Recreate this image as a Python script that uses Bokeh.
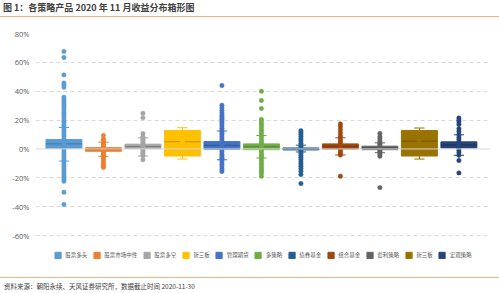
from bokeh.plotting import figure
from bokeh.models import (ColumnDataSource, Range1d, FixedTicker, PrintfTickFormatter,
                          Legend, LegendItem, Span, Div)
from bokeh.layouts import column
from bokeh.embed import file_html
from bokeh.resources import INLINE

categories = ["股票多头", "股票市场中性", "股票多空", "新三板", "管理期货", "多策略",
              "债券基金", "组合基金", "套利策略", "新三板", "宏观策略"]
colors = ["#5B9BD5", "#ED7D31", "#A5A5A5", "#FFC000", "#4472C4", "#70AD47",
          "#255E91", "#9E480E", "#636363", "#997300", "#264478"]

q1 = [0.5, -1.6, 0.2, -4.9, -0.2, -0.5, -0.7, 0.0, -0.5, -4.9, 0.7]
median = [3.5, -0.2, 1.6, 5.0, 2.5, 1.5, 0.0, 1.8, 0.7, 5.4, 2.8]
q3 = [6.5, 0.9, 3.3, 12.8, 5.1, 3.5, 0.7, 3.5, 1.9, 12.8, 4.9]
whisker_lo = [-8.4, -5.1, -4.9, -7.0, -7.5, -6.3, -2.1, -4.2, -2.6, -7.0, -4.4]
whisker_hi = [14.9, 4.7, 7.7, 14.7, 12.4, 9.3, 2.6, 7.7, 4.2, 14.5, 9.8]
mean = [3.9, -0.3, 1.8, 5.2, 2.7, 1.7, 0.1, 2.0, 0.8, 5.4, 3.0]

points = [
    [67.6, 63.4, 51.3, 45.7, 44.4, 42.8, 35.9, 34.4, 33.1, 31.5, 30.2, 28.6, 27.1, 25.4, 24.0,
     22.6, 21.0, 19.4, 18.1, 16.5, 15.2, 13.6, 12.1, 10.4, 9.0, 7.5, 6.1, 4.4, 3.0, 1.6, 0.1,
     -1.4, -3.0, -4.6, -6.0, -7.5, -9.1, -10.6, -12.0, -13.4, -15.0, -16.6, -18.1, -19.5,
     -21.0, -22.4, -30.0, -38.5],
    [9.3, 6.8, 5.6, 4.7, 3.4, 2.5, 1.4, 0.5, -0.6, -1.5, -2.6, -3.5, -4.4, -5.1, -6.2, -7.5,
     -9.0, -10.4, -11.6, -12.8],
    [24.7, 21.7, 10.7, 8.6, 7.7, 6.4, 5.5, 4.4, 3.5, 2.4, 1.6, 0.5, -0.4, -1.5, -2.6, -3.5,
     -4.9, -7.5],
    [7.6, 6.0, 4.2],
    [44.0, 30.3, 28.4, 26.6, 25.0, 23.4, 22.0, 20.6, 19.0, 17.5, 16.1, 14.4, 13.0, 11.5, 10.1,
     8.4, 7.0, 5.6, 4.0, 2.5, 1.0, -0.5, -2.0, -3.6, -5.0, -6.4, -7.5, -9.0, -10.6, -12.4,
     -14.0, -15.6],
    [40.0, 33.6, 28.0, 20.5, 19.0, 17.4, 16.0, 14.6, 13.0, 11.4, 10.0, 8.6, 7.0, 5.4, 4.0,
     2.6, 1.0, -0.5, -2.0, -3.6, -5.0, -6.3, -8.0, -9.6, -11.0, -12.5, -14.0, -15.4, -17.0,
     -18.9],
    [12.6, 11.4, 10.0, 8.6, 7.0, 5.6, 4.0, 2.6, 1.5, 0.5, -0.5, -1.5, -3.0, -4.6, -6.0, -7.4,
     -9.0, -10.5, -12.0, -13.6, -15.5, -17.7, -24.0],
    [17.3, 15.5, 13.3, 11.0, 9.0, 7.7, 6.0, 4.5, 3.0, 1.5, 0.0, -1.5, -3.0, -4.2, -18.9],
    [10.7, 8.5, 7.0, 5.5, 4.2, 3.0, 2.0, 1.0, 0.0, -1.0, -2.0, -2.6, -3.8, -5.1, -26.8],
    [7.6, 6.0, 4.2],
    [21.5, 20.0, 18.8, 17.0, 14.0, 12.0, 9.8, 8.0, 6.5, 5.0, 3.5, 2.0, 0.5, -1.0, -2.5, -4.4,
     -8.0, -16.6],
]

y_ticks = [-60, -40, -20, 0, 20, 40, 60, 80]

xs = list(range(len(categories)))
box_src = ColumnDataSource(dict(x=xs, q1=q1, q3=q3, med=median, lo=whisker_lo, hi=whisker_hi,
                                mean=mean, color=colors, cat=categories))

p = figure(width=499, height=260, output_backend="svg", toolbar_location=None,
           x_range=Range1d(-0.72, 10.8), y_range=Range1d(-78.7, 80),
           min_border_left=35, min_border_right=9, min_border_top=16, min_border_bottom=15)
p.outline_line_color = None
p.background_fill_color = "white"
p.border_fill_color = "white"

p.xaxis.visible = False
p.xgrid.visible = False
p.ygrid.ticker = FixedTicker(ticks=[t for t in y_ticks if t != 0])
p.ygrid.grid_line_color = "#D9D9D9"
p.ygrid.grid_line_dash = "4 3"
p.ygrid.grid_line_width = 1

p.yaxis.ticker = FixedTicker(ticks=y_ticks)
p.yaxis.formatter = PrintfTickFormatter(format="%d%%")
p.yaxis.axis_line_color = None
p.yaxis.major_tick_line_color = None
p.yaxis.minor_tick_line_color = None
p.yaxis.major_tick_out = 0
p.yaxis.major_tick_in = 0
p.yaxis.minor_tick_out = 0
p.yaxis.major_label_text_font = "Open Sans"
p.yaxis.major_label_text_font_size = "7.5px"
p.yaxis.major_label_text_color = "#595959"
p.yaxis.major_label_standoff = 6

p.add_layout(Span(location=0, dimension="width", line_color="#D9D9D9", line_width=1))

# whiskers
p.segment(x0="x", y0="q3", x1="x", y1="hi", source=box_src, line_color="color", line_width=1)
p.segment(x0="x", y0="q1", x1="x", y1="lo", source=box_src, line_color="color", line_width=1)
cap = 0.13
cap_src = ColumnDataSource(dict(x0=[x - cap for x in xs], x1=[x + cap for x in xs],
                                hi=whisker_hi, lo=whisker_lo, color=colors))
p.segment(x0="x0", y0="hi", x1="x1", y1="hi", source=cap_src, line_color="color", line_width=1)
p.segment(x0="x0", y0="lo", x1="x1", y1="lo", source=cap_src, line_color="color", line_width=1)

boxes = p.vbar(x="x", top="q3", bottom="q1", width=0.91, source=box_src,
               fill_color="color", line_color="color", line_width=1)

# median
p.segment(x0="x0", y0="med", x1="x1", y1="med",
          source=ColumnDataSource(dict(x0=[x - 0.455 for x in xs], x1=[x + 0.455 for x in xs],
                                       med=median)),
          line_color="black", line_alpha=0.25, line_width=1)

# points
px, py, pc = [], [], []
for i, vals in enumerate(points):
    for v in vals:
        px.append(i)
        py.append(v)
        pc.append(colors[i])
p.scatter(x="x", y="y", source=ColumnDataSource(dict(x=px, y=py, c=pc)), size=4.4,
          fill_color="c", line_color="c", line_width=0.5)

# mean marker
p.scatter(x="x", y="mean", source=box_src, marker="x", size=5, line_color="color",
          line_width=1)

items = [LegendItem(label=categories[i], renderers=[boxes], index=i) for i in xs]
legend = Legend(items=items, orientation="horizontal", location="bottom_center",
                label_text_font="Noto Sans CJK SC", label_text_font_size="5.5px",
                label_text_color="#595959", glyph_width=8, glyph_height=8,
                label_standoff=4, spacing=5, padding=2, margin=3,
                border_line_color=None, background_fill_alpha=0,
                label_height=8, label_width=10)
p.add_layout(legend)

title = Div(text="图 1：各策略产品 2020 年 11 月收益分布箱形图", width=499, height=17, margin=0,
            styles={"font-family": "Noto Sans CJK SC", "font-size": "9px", "font-weight": "bold",
                    "color": "#404040", "padding-left": "3px", "line-height": "15px",
                    "border-bottom": "1.5px solid #F4B183", "box-sizing": "border-box",
                    "width": "499px", "height": "17px"})
source = Div(text="资料来源：朝阳永续、天风证券研究所，数据截止时间 2020-11-30", width=499, height=16,
             margin=0,
             styles={"font-family": "Noto Sans CJK SC", "font-size": "6.5px", "color": "#404040",
                     "padding-left": "4px", "padding-top": "4px", "line-height": "8px",
                     "border-top": "1.5px solid #F4B183", "box-sizing": "border-box",
                     "width": "499px", "height": "16px"})

layout = column(title, p, source, spacing=0)
open("out.html", "w").write(file_html(layout, INLINE))
